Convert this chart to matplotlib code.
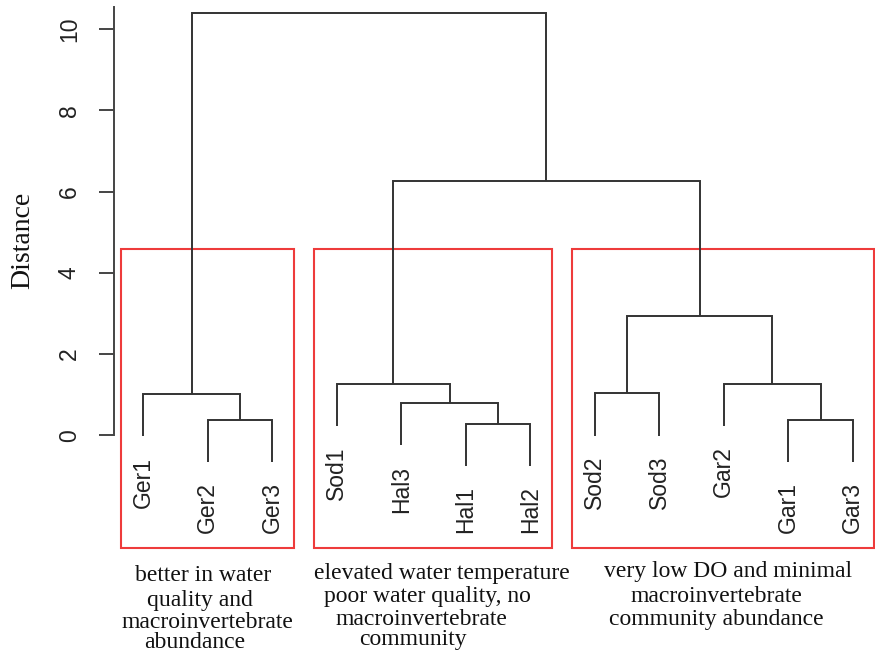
import matplotlib
matplotlib.use("Agg")
import matplotlib.pyplot as plt
from matplotlib.patches import Rectangle

# ---------------- data ----------------
leaf_labels = ["Ger1", "Ger2", "Ger3", "Sod1", "Hal3", "Hal1", "Hal2",
               "Sod2", "Sod3", "Gar2", "Gar1", "Gar3"]
# R-style merge matrix: negative = leaf (1-based position), positive = earlier merge
merge_left = [-6, -2, -11, -5, -1, -8, -4, -10, 6, 7, 5]
merge_right = [-7, -3, -12, 1, 2, -9, 4, 3, 8, 9, 10]
merge_height = [0.28, 0.377, 0.377, 0.79, 1.01, 1.03, 1.26, 1.26, 2.94, 6.26, 10.39]

y_ticks = [0, 2, 4, 6, 8, 10]
y_label = "Distance"

group_ranges = [(1, 3), (4, 7), (8, 12)]
group_texts = [
    ["better in water", "quality and", "macroinvertebrate", "abundance"],
    ["elevated water temperature", "poor water quality, no", "macroinvertebrate", "community"],
    ["very low DO and minimal", "macroinvertebrate", "community abundance"],
]
# text line centres (pixel x) and baselines (pixel y)
group_text_x = [[203, 200, 207, 195], [442, 427, 421, 413], [728, 716, 716]]
group_text_y = [[581, 606, 628, 648], [579, 602, 625, 645], [577, 602, 625]]

# ---------------- figure ----------------
W, H = 875, 654
fig = plt.figure(figsize=(W / 100, H / 100), dpi=100)
ax_left_px = 114
ax = fig.add_axes([ax_left_px / W, 0, (W - ax_left_px) / W, 1])

px_per_x = 64.5
x0_px = 78.8
px_per_y = 40.6
y0_px = 435.3
ax.set_xlim((ax_left_px - x0_px) / px_per_x, (W - x0_px) / px_per_x)
ax.set_ylim((y0_px - H) / px_per_y, y0_px / px_per_y)

line_col = "#333333"
hang = 0.1 * max(merge_height)

node_x = {}


def child_info(c, h):
    if c < 0:
        return float(-c), h - hang, True
    return node_x[c], merge_height[c - 1], False


leaf_end = {}
for i, (l, r, h) in enumerate(zip(merge_left, merge_right, merge_height), start=1):
    xl, yl, ll = child_info(l, h)
    xr, yr, lr = child_info(r, h)
    ax.plot([xl, xl, xr, xr], [yl, h, h, yr], color=line_col, lw=1.4,
            solid_joinstyle="miter", solid_capstyle="butt")
    if ll:
        leaf_end[-l] = yl
    if lr:
        leaf_end[-r] = yr
    node_x[i] = (xl + xr) / 2

for pos, lab in enumerate(leaf_labels, start=1):
    ax.annotate(lab, xy=(pos, leaf_end[pos]), xytext=(0, -14.5),
                textcoords="offset points", rotation=90, ha="center", va="top",
                fontsize=16.5, family="Liberation Sans", color="#222222")

# red boxes
box_top = 4.58
box_bot = -2.78
for a, b in group_ranges:
    x1 = a - 0.35
    x2 = b + 0.33
    ax.add_patch(Rectangle((x1, box_bot), x2 - x1, box_top - box_bot,
                           fill=False, edgecolor="#ee3b3b", lw=1.5, clip_on=False))

# axis styling
for s in ["top", "right", "bottom"]:
    ax.spines[s].set_visible(False)
ax.spines["left"].set_bounds(0, 10.55)
ax.spines["left"].set_color("#444444")
ax.spines["left"].set_linewidth(1.4)
ax.set_xticks([])
ax.set_yticks(y_ticks)
ax.set_yticklabels([str(t) for t in y_ticks], rotation=90, va="center",
                   fontsize=16.5, family="Liberation Sans", color="#222222")
ax.tick_params(axis="y", length=10.8, width=1.4, color="#444444", pad=13)
ax.patch.set_alpha(0)

fig.text(23 / W, 1 - 240 / H, y_label, rotation=90, ha="center", va="center",
         fontsize=20, family="Liberation Serif", color="#111111")

for lines, xs, ys in zip(group_texts, group_text_x, group_text_y):
    for t, xp, yp in zip(lines, xs, ys):
        fig.text(xp / W, 1 - yp / H, t, ha="center", va="baseline",
                 fontsize=17, family="Liberation Serif", color="#111111")

fig.savefig("out.png", dpi=100)
